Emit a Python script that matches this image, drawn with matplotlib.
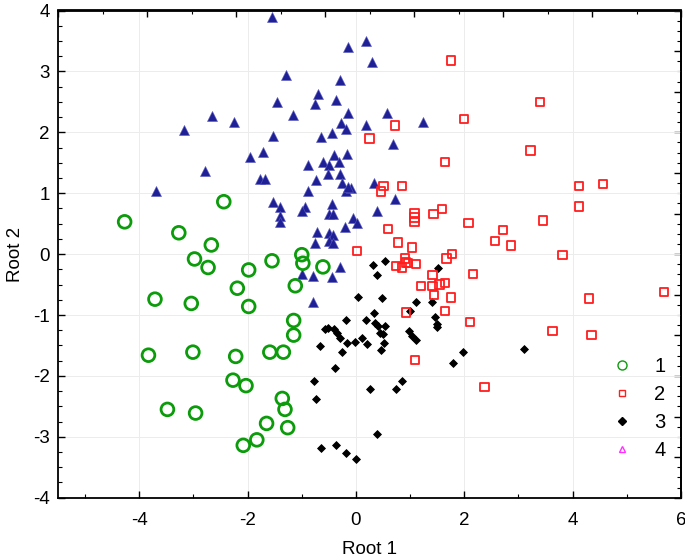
import numpy as np
import matplotlib
matplotlib.use("Agg")
import matplotlib.pyplot as plt
from matplotlib.lines import Line2D
from matplotlib.ticker import MultipleLocator, FixedLocator

plt.rcParams['font.family'] = ['Liberation Sans', 'DejaVu Sans']

# ---- data (Root 1, Root 2) ----
g1_x = [-4.27, -2.44, -3.27, -2.67, -2.98, -2.73, -1.98, -1.55, -2.19, -3.71, -3.04,
        -1.98, -1.12, -1.00, -0.98, -0.61, -1.15, -1.15, -3.83, -3.01, -2.22, -1.59,
        -1.34, -2.27, -2.03, -1.36, -1.31, -3.48, -2.96, -1.65, -1.26, -1.83, -2.08]
g1_y = [0.53, 0.86, 0.35, 0.15, -0.08, -0.22, -0.26, -0.11, -0.56, -0.74, -0.81,
        -0.86, -0.52, -0.01, -0.15, -0.21, -1.09, -1.33, -1.66, -1.61, -1.68, -1.61,
        -1.61, -2.07, -2.16, -2.37, -2.55, -2.55, -2.61, -2.78, -2.85, -3.05, -3.14]

g2_x = [1.75, 2.00, 0.72, 0.25, 1.64, 0.51, 0.85, 0.46, 1.08, 1.08, 1.08, 1.43, 1.59,
        2.08, 0.59, 0.77, 1.03, 0.02, 1.77, 1.67, 0.90, 0.92, 0.74, 0.85, 0.96, 1.11,
        2.16, 1.41, 1.41, 1.20, 1.54, 1.64, 1.44, 1.75, 0.92, 1.64, 2.11, 1.09, 2.37,
        3.40, 3.22, 4.12, 4.56, 4.12, 3.45, 2.72, 2.57, 2.86, 3.81, 4.30, 5.69, 3.63, 4.35]
g2_y = [3.18, 2.22, 2.11, 1.90, 1.51, 1.12, 1.12, 1.03, 0.67, 0.60, 0.53, 0.66, 0.74,
        0.51, 0.41, 0.19, 0.11, 0.05, 0.00, -0.07, -0.07, -0.14, -0.19, -0.22, -0.15, -0.16,
        -0.33, -0.34, -0.52, -0.52, -0.50, -0.48, -0.67, -0.71, -0.96, -0.93, -1.12, -1.74, -2.18,
        2.50, 1.70, 1.12, 1.15, 0.78, 0.55, 0.40, 0.21, 0.14, -0.02, -0.73, -0.62, -1.26, -1.33]

g3_x = [0.54, 0.31, 0.39, 1.51, 0.03, 0.48, 1.11, 1.41, 1.00, 1.46, 1.49, 1.49, -0.19,
        0.18, 0.34, 0.35, 0.41, 0.54, 0.45, 0.49, 0.52, 0.46, -0.57, -0.52, -0.40, -0.35,
        -0.29, -0.16, -0.01, 0.12, 0.21, -0.26, -0.67, 0.98, 1.03, 1.11, -0.39, 1.98, 1.80,
        -0.78, -0.73, 0.26, 0.74, 0.85, 0.39, -0.65, -0.36, -0.19, 0.00, 3.11]
g3_y = [-0.11, -0.18, -0.35, -0.23, -0.71, -0.72, -0.78, -0.78, -0.93, -1.03, -1.15, -1.20, -1.08,
        -1.08, -0.96, -1.13, -1.18, -1.18, -1.30, -1.32, -1.46, -1.58, -1.23, -1.22, -1.23, -1.30,
        -1.38, -1.46, -1.45, -1.38, -1.48, -1.60, -1.51, -1.27, -1.35, -1.41, -1.87, -1.60, -1.78,
        -2.08, -2.38, -2.22, -2.22, -2.08, -2.95, -3.18, -3.13, -3.27, -3.36, -1.56]

g4_x = [-1.55, -1.29, -1.45, -1.17, -2.66, -2.25, -3.17, -1.53, -1.96, -1.71, -2.78, -1.77,
        -1.68, -0.14, 0.18, 0.30, -0.29, -0.70, -0.76, -0.37, -0.14, -0.27, -0.19, 0.18, 0.57,
        1.24, -0.65, -0.45, 0.69, -0.40, -0.16, -0.61, -0.49, -0.31, -0.88, -0.52, -0.29, -3.70,
        -1.53, -1.40, -1.40, -1.40, -0.73, -0.25, -0.19, -0.09, -0.14, -0.88, 0.33, 0.72, -0.94,
        -1.00, -0.45, -0.49, -0.43, 0.38, -0.06, 0.02, -0.21, -0.71, -0.49, -0.42, -0.49, -0.43,
        -0.76, -0.29, -1.00, -0.80, -0.45, -0.80]
g4_y = [3.89, 2.94, 2.49, 2.29, 2.26, 2.17, 2.03, 1.94, 1.60, 1.67, 1.37, 1.24,
        1.24, 3.40, 3.50, 3.16, 2.86, 2.63, 2.46, 2.53, 2.31, 2.15, 2.06, 2.12, 2.31,
        2.17, 1.92, 1.99, 1.80, 1.63, 1.65, 1.52, 1.46, 1.52, 1.46, 1.32, 1.32, 1.04,
        0.86, 0.77, 0.62, 0.52, 1.21, 1.16, 1.04, 1.08, 1.11, 1.03, 1.16, 0.90, 0.78,
        0.70, 0.82, 0.66, 0.66, 0.71, 0.59, 0.51, 0.45, 0.37, 0.34, 0.32, 0.22, 0.18,
        0.19, -0.22, -0.33, -0.36, -0.38, -0.78]

legend_labels = ["1", "2", "3", "4"]
x_label = "Root 1"
y_label = "Root 2"

green = '#0b9b0b'
red = '#ff1e1e'
blue = '#1f1f96'
magenta = '#ff30ff'

fig = plt.figure(figsize=(6.85, 5.59), dpi=100)
ax = fig.add_axes([58/685, 1-497.7/559, (681-58)/685, (497.7-10.5)/559])

ax.scatter(g4_x, g4_y, marker='^', s=52, facecolor=blue, edgecolor='#5a5ac0',
           linewidths=0.4, zorder=3)
ax.scatter(g3_x, g3_y, marker='D', s=16, facecolor='black', edgecolor='black',
           linewidths=0.6, zorder=4)
ax.scatter(g2_x, g2_y, marker='s', s=36, facecolor='none', edgecolor=red,
           linewidths=1.3, zorder=5)
ax.scatter(g1_x, g1_y, marker='o', s=84, facecolor='none', edgecolor=green,
           linewidths=2.0, zorder=6)

ax.set_xlim(-5.5, 6)
ax.set_ylim(-4, 4)
ax.xaxis.set_major_locator(MultipleLocator(2))
ax.xaxis.set_minor_locator(MultipleLocator(1))
ax.yaxis.set_major_locator(MultipleLocator(1))
ax.yaxis.set_minor_locator(MultipleLocator(0.25))
ax.grid(True, which='major', color='#ececec', linewidth=0.7, zorder=0)
ax.set_axisbelow(True)

ax.tick_params(which='both', direction='in', colors='black', labelsize=13.5)
ax.tick_params(which='major', length=5, width=1.0)
ax.tick_params(which='minor', length=3, width=0.8)
ax.tick_params(axis='x', pad=10)
ax.tick_params(axis='y', pad=6)
for s in ax.spines.values():
    s.set_linewidth(1.3)

ax.set_xticklabels([f"{int(v)}" if v >= 0 else f"-{int(-v)}" for v in ax.get_xticks()])
ax.set_yticklabels([f"{int(v)}" if v >= 0 else f"-{int(-v)}" for v in ax.get_yticks()])

ax.set_xlabel(x_label, fontsize=13.5, labelpad=9)
ax.set_ylabel(y_label, fontsize=13.5, labelpad=6)

# top and right axes with their own tick divisions
top = ax.secondary_xaxis('top')
top.xaxis.set_major_locator(FixedLocator(np.linspace(-5.5, 6, 8)))
top.xaxis.set_minor_locator(FixedLocator(np.linspace(-5.5, 6, 15)))
top.tick_params(which='both', direction='in', labeltop=False)
top.tick_params(which='major', length=5, width=1.0)
top.tick_params(which='minor', length=3, width=0.8)
top.spines['top'].set_linewidth(1.3)

right = ax.secondary_yaxis('right')
right.yaxis.set_major_locator(FixedLocator(np.linspace(-4, 4, 13)))
right.yaxis.set_minor_locator(FixedLocator(np.linspace(-4, 4, 49)))
right.tick_params(which='both', direction='in', labelright=False)
right.tick_params(which='major', length=5, width=1.0)
right.tick_params(which='minor', length=3, width=0.8)
right.spines['right'].set_linewidth(1.3)

handles = [
    Line2D([], [], linestyle='none', marker='o', markersize=6.5, markerfacecolor='none',
           markeredgecolor=green, markeredgewidth=1.0),
    Line2D([], [], linestyle='none', marker='s', markersize=5, markerfacecolor='none',
           markeredgecolor=red, markeredgewidth=1.0),
    Line2D([], [], linestyle='none', marker='D', markersize=4, markerfacecolor='black',
           markeredgecolor='black'),
    Line2D([], [], linestyle='none', marker='^', markersize=5, markerfacecolor='none',
           markeredgecolor=magenta, markeredgewidth=1.0),
]
leg = ax.legend(handles, legend_labels, loc='upper left',
                bbox_to_anchor=((614-58)/623, 1-(357-10.5)/487.2),
                frameon=False, fontsize=14.5, handlelength=0.8, handletextpad=1.2,
                labelspacing=0.45, borderpad=0, borderaxespad=0)

fig.savefig("out.png", dpi=100)
